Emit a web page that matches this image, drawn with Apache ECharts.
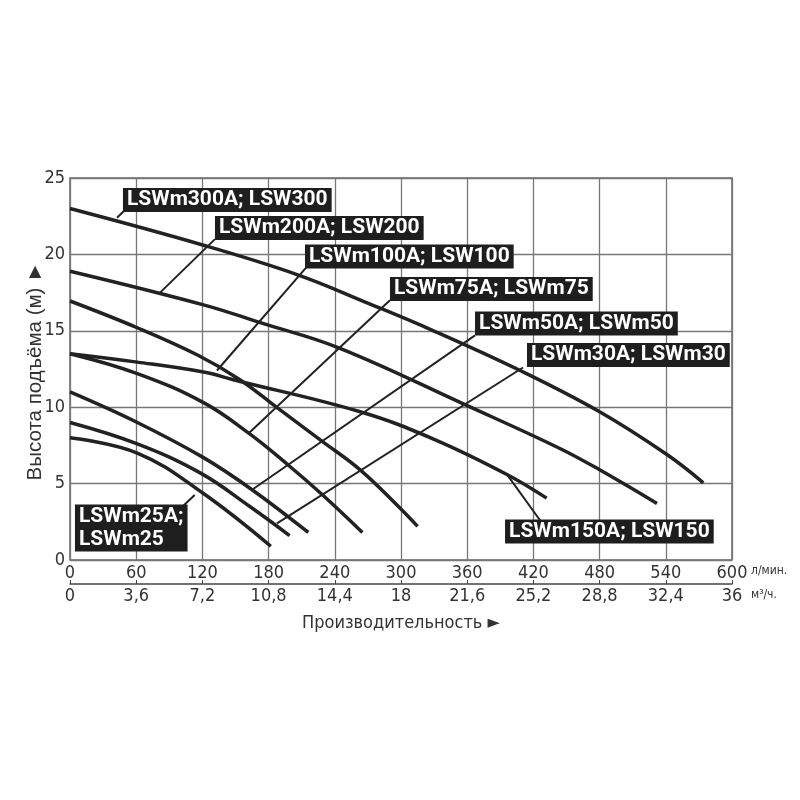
<!DOCTYPE html>
<html><head><meta charset="utf-8">
<script src="https://cdn.jsdelivr.net/npm/echarts@6/dist/echarts.min.js"></script>
<style>html,body{margin:0;padding:0;background:#fff}#c{width:800px;height:800px}</style>
</head><body><div id="c"></div>
<script>
// ---- data (Q in л/мин, H in м) ----
const xTicksLmin = [0,60,120,180,240,300,360,420,480,540,600];
const xTicksM3h = ["0","3,6","7,2","10,8","14,4","18","21,6","25,2","28,8","32,4","36"];
const yTicks = [0,5,10,15,20,25];

const curve300 = [[0,23.0],[121,20.6],[207,18.65],[267,16.9],[328,15.05],[408,12.4],[480,9.7],[541,6.9],[574,5.05]];
const curve200 = [[0,18.9],[121,16.7],[174,15.5],[243,13.9],[360,10.1],[444,7.3],[480,5.9],[532,3.7]];
const curve150 = [[0,13.5],[61,12.95],[121,12.3],[148,11.8],[263,9.7],[330,7.9],[396,5.6],[432,4.05]];
const curve100 = [[0,16.95],[61,15.2],[116,13.4],[154,11.8],[188,9.95],[228,7.8],[263,5.9],[299,3.4],[315,2.2]];
const curve75  = [[0,13.5],[61,12.2],[121,10.3],[162,8.3],[198,6.2],[229,4.25],[265,1.8]];
const curve50  = [[0,11.0],[61,9.0],[121,6.7],[165,4.6],[216,1.8]];
const curve30  = [[0,9.0],[61,7.6],[118,5.7],[163,3.5],[199,1.6]];
const curve25  = [[0,8.0],[61,7.0],[120,4.4],[182,0.9]];

const labelNames = ["LSWm300A; LSW300","LSWm200A; LSW200","LSWm100A; LSW100","LSWm75A; LSWm75","LSWm50A; LSWm50","LSWm30A; LSWm30","LSWm150A; LSW150","LSWm25A;\nLSWm25"];
const labelAnchors = [[48.0,23.56],[131.4,21.73],[213.0,19.86],[290.0,17.74],[367.1,15.48],[414.2,13.42],[394.3,1.87],[4.5,2.09]];
const leaderStarts = [[49.9,22.9],[131.4,21.0],[214.8,19.2],[290.0,17.0],[367.1,14.7],[410.6,12.6],[426,2.6],[102,3.5]];
const leaderEnds   = [[42.6,22.4],[81.6,17.5],[133.2,12.4],[162,8.3],[165,4.6],[187.6,2.4],[396,5.6],[113,4.25]];

const curves = [curve300,curve200,curve150,curve100,curve75,curve50,curve30,curve25];

const narrow = '"Liberation Sans Narrow","DejaVu Sans Condensed","Liberation Sans",sans-serif';
const ink = '#222';

const series = [];
curves.forEach(c => series.push({
  type:'line', data:c, smooth:0.4, showSymbol:false, symbol:'none',
  lineStyle:{color:ink,width:3.5}, z:3, silent:true
}));
leaderStarts.forEach((s,i) => series.push({
  type:'line', data:[s,leaderEnds[i]], showSymbol:false, symbol:'none',
  lineStyle:{color:ink,width:2}, z:4, silent:true
}));
series.push({
  type:'scatter', symbolSize:0, z:10, silent:true, itemStyle:{opacity:1},
  data: labelAnchors.map((a,i)=>({value:a, name:labelNames[i]})),
  label:{show:true, position:'right', distance:0, formatter:p=>p.name, opacity:1,
    color:'#fff', backgroundColor:'#1e1e1e', fontFamily:'Roboto, "Noto Sans", sans-serif',
    fontWeight:'bold', fontSize:21, lineHeight:23, padding:[1,4,0,4], align:'left'}
});

const chart = echarts.init(document.getElementById('c'));
chart.setOption({
  animation:false,
  backgroundColor:'#fff',
  grid:{left:70,right:68,top:178,bottom:240,show:true,borderColor:'#666',borderWidth:1.5},
  xAxis:[
    {type:'value',min:0,max:600,interval:60,position:'bottom',
     axisLine:{show:false},axisTick:{show:false},
     splitLine:{show:true,lineStyle:{color:'#777',width:1.3}},
     axisLabel:{margin:4,fontFamily:narrow,fontSize:18,color:'#333',
       formatter:v=>xTicksLmin.includes(v)?String(v):''}},
    {type:'value',min:0,max:36,interval:3.6,position:'bottom',offset:24,
     axisLine:{show:true,lineStyle:{color:'#444',width:1.5}},
     axisTick:{show:true,length:4,inside:true,lineStyle:{color:'#444'}},
     splitLine:{show:false},
     axisLabel:{margin:3,fontFamily:narrow,fontSize:18,color:'#333',
       formatter:v=>xTicksM3h[Math.round(v/3.6)]},
     name:'Производительность ►',nameLocation:'middle',nameGap:30,
     nameTextStyle:{fontFamily:narrow,fontSize:18,color:'#333'}}
  ],
  yAxis:{type:'value',min:0,max:25,interval:5,
    axisLine:{show:false},axisTick:{show:false},
    splitLine:{show:true,lineStyle:{color:'#777',width:1.3}},
    axisLabel:{margin:5,fontFamily:narrow,fontSize:18,color:'#333',
      formatter:v=>yTicks.includes(v)?String(v):''}},
  graphic:[
    {type:'text',x:35,y:371,rotation:Math.PI/2,
     style:{text:'Высота подъёма (м) ►',font:'20.5px "Liberation Sans",Arial,sans-serif',
       fill:'#333',align:'center',verticalAlign:'middle'}},
    {type:'text',left:751,top:565,style:{text:'л/мин.',font:'12px '+narrow,fill:'#333'}},
    {type:'text',left:751,top:589,style:{text:'м³/ч.',font:'12px '+narrow,fill:'#333'}}
  ],
  series:series
});
</script></body></html>
